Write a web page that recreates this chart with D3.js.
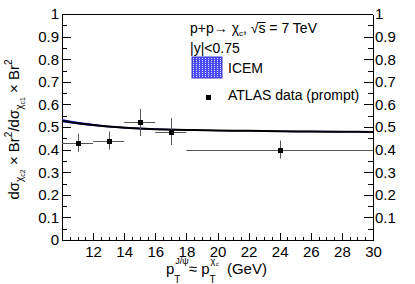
<!DOCTYPE html>
<html>
<head>
<meta charset="utf-8">
<script src="https://cdn.jsdelivr.net/npm/d3@7"></script>
<style>
  body { margin: 0; background: #fff; }
  svg { display: block; font-family: "Liberation Sans", Arial, sans-serif; }
  svg text { white-space: pre; }
  .axis text { font-size: 15px; fill: #000; }
  .axis path, .axis line { stroke: #000; shape-rendering: crispEdges; }
</style>
</head>
<body>
<div class="chart"></div>
<script>
'use strict';

const W = 415, H = 284;
const frame = {left: 62, right: 373, top: 14, bottom: 240};

// tick labels
const xTicks = [12, 14, 16, 18, 20, 22, 24, 26, 28, 30];
const yTicks = [0, 0.1, 0.2, 0.3, 0.4, 0.5, 0.6, 0.7, 0.8, 0.9, 1];

// ATLAS data (prompt)
const dataPt = [11, 13, 15, 17, 24];
const dataPtLo = [10, 12, 14, 16, 18];
const dataPtHi = [12, 14, 16, 18, 30];
const dataRatio = [0.43, 0.44, 0.52, 0.48, 0.40];
const dataErr = [0.04, 0.04, 0.06, 0.06, 0.04];

// ICEM band
const icemPt = [10, 11, 12, 13, 14, 15, 16, 18, 20, 22, 24, 26, 28, 30];
const icemMid = [0.528, 0.517, 0.509, 0.502, 0.497, 0.493, 0.490, 0.487, 0.484, 0.483, 0.481, 0.480, 0.479, 0.478];
const icemLo = [0.521, 0.512, 0.504, 0.498, 0.493, 0.489, 0.487, 0.484, 0.481, 0.480, 0.478, 0.477, 0.476, 0.475];
const icemHi = [0.535, 0.523, 0.514, 0.506, 0.501, 0.497, 0.494, 0.490, 0.487, 0.486, 0.484, 0.483, 0.482, 0.481];

const x = d3.scaleLinear().domain([10, 30]).range([frame.left, frame.right]);
const y = d3.scaleLinear().domain([0, 1]).range([frame.bottom, frame.top]);

const svg = d3.select('.chart').append('svg')
    .attr('width', W)
    .attr('height', H);

const fmt = d => String(+d.toFixed(1));

// minor ticks
const yMinor = d3.range(0.05, 1, 0.1);
const xMinor = d3.range(10, 30.01, 0.5).filter(v => v % 2 !== 0);

// left axis
svg.append('g').attr('class', 'axis')
    .attr('transform', `translate(${frame.left},0)`)
    .call(d3.axisLeft(y).tickValues(yMinor).tickSizeInner(-4.7).tickSizeOuter(0).tickFormat(''))
    .call(g => g.select('.domain').remove());
svg.append('g').attr('class', 'axis')
    .attr('transform', `translate(${frame.left},0)`)
    .call(d3.axisLeft(y).tickValues(yTicks).tickSizeInner(-9.3).tickSizeOuter(0).tickPadding(3).tickFormat(fmt));

// right axis
svg.append('g').attr('class', 'axis')
    .attr('transform', `translate(${frame.right},0)`)
    .call(d3.axisRight(y).tickValues(yMinor).tickSizeInner(-4.7).tickSizeOuter(0).tickFormat(''))
    .call(g => g.select('.domain').remove());
svg.append('g').attr('class', 'axis')
    .attr('transform', `translate(${frame.right},0)`)
    .call(d3.axisRight(y).tickValues(yTicks).tickSizeInner(-9.3).tickSizeOuter(0).tickPadding(2)
        .tickFormat(d => d === 0 ? '' : fmt(d)));

// bottom axis
svg.append('g').attr('class', 'axis')
    .attr('transform', `translate(0,${frame.bottom})`)
    .call(d3.axisBottom(x).tickValues(xMinor).tickSizeInner(-3.4).tickSizeOuter(0).tickFormat(''))
    .call(g => g.select('.domain').remove());
svg.append('g').attr('class', 'axis')
    .attr('transform', `translate(0,${frame.bottom})`)
    .call(d3.axisBottom(x).tickValues([10].concat(xTicks)).tickSizeInner(-6.8).tickSizeOuter(0).tickPadding(6)
        .tickFormat(d => d === 10 ? '' : d));

// top frame line
svg.append('line')
    .attr('x1', frame.left).attr('x2', frame.right)
    .attr('y1', frame.top).attr('y2', frame.top)
    .attr('stroke', '#000').attr('shape-rendering', 'crispEdges');

// ICEM band + central line
const band = icemPt.map((p, i) => ({p, lo: icemLo[i], hi: icemHi[i], mid: icemMid[i]}));
svg.append('path')
    .datum(band)
    .attr('fill', '#2a2ad0')
    .attr('d', d3.area().curve(d3.curveMonotoneX)
        .x(d => x(d.p)).y0(d => y(d.lo)).y1(d => y(d.hi)));
svg.append('path')
    .datum(band)
    .attr('fill', 'none')
    .attr('stroke', '#000')
    .attr('stroke-width', 2)
    .attr('d', d3.line().curve(d3.curveMonotoneX).x(d => x(d.p)).y(d => y(d.mid)));

// data points
const pts = dataPt.map((p, i) => ({p, lo: dataPtLo[i], hi: dataPtHi[i], v: dataRatio[i], e: dataErr[i]}));
const pg = svg.append('g').attr('stroke', '#555').attr('stroke-width', 1);
pg.selectAll('.ex').data(pts).enter().append('line')
    .attr('x1', d => x(d.lo)).attr('x2', d => x(d.hi))
    .attr('y1', d => Math.round(y(d.v)) + 0.5).attr('y2', d => Math.round(y(d.v)) + 0.5);
pg.selectAll('.ey').data(pts).enter().append('line')
    .attr('x1', d => Math.round(x(d.p)) + 0.5).attr('x2', d => Math.round(x(d.p)) + 0.5)
    .attr('y1', d => y(d.v - d.e)).attr('y2', d => y(d.v + d.e));
svg.selectAll('.marker').data(pts).enter().append('rect')
    .attr('x', d => Math.round(x(d.p)) - 2)
    .attr('y', d => Math.round(y(d.v)) - 2)
    .attr('width', 5).attr('height', 5)
    .attr('fill', '#000');

// helper for text with sub/superscripts
function richText(g, x0, y0, parts, size) {
    let cx = x0;
    parts.forEach(p => {
        const items = p.stack || [p];
        let w = 0;
        items.forEach(s => {
            const t = g.append('text')
                .attr('x', cx + (s.dx || 0))
                .attr('y', y0 + (s.dy || 0))
                .attr('font-size', s.size || size)
                .attr('fill', '#000')
                .text(s.t);
            w = Math.max(w, (s.dx || 0) + t.node().getComputedTextLength());
        });
        cx += w;
    });
    return cx - x0;
}

// x title
richText(svg.append('g'), 166, 274, [
    {t: 'p'},
    {stack: [{t: 'J/ψ', size: 9, dy: -10, dx: 1}, {t: 'T', size: 10, dy: 9}]},
    {t: '≈ p'},
    {stack: [{t: 'χ', size: 9, dy: -10, dx: 1}, {t: 'T', size: 10, dy: 9}]},
    {t: 'c', size: 6, dy: -8},
    {t: '  (GeV)'}
], 15);

// y title
const yt = svg.append('g');
const ytInner = yt.append('g');
const yLen = richText(ytInner, 0, 0, [
    {t: 'dσ'},
    {t: 'χ', size: 10, dy: 4},
    {t: 'c2', size: 7, dy: 6},
    {t: ' × Br'},
    {t: '2', size: 10, dy: -7},
    {t: '/dσ'},
    {t: 'χ', size: 10, dy: 4},
    {t: 'c1', size: 7, dy: 6},
    {t: ' × Br'},
    {t: '2', size: 10, dy: -7}
], 15);
yt.attr('transform', `translate(18.5,${129.5 + yLen / 2}) rotate(-90)`);

// legend
const lg = svg.append('g');
const l1 = lg.append('g');
const w1 = richText(l1, 190, 33, [
    {t: 'p+p→ χ'},
    {t: 'c', size: 8, dy: 3},
    {t: ', √'}
], 14);
const sx = 190 + w1;
const w2 = richText(l1, sx, 33, [{t: 's'}], 14);
l1.append('line')
    .attr('x1', sx - 0.5).attr('x2', sx + w2)
    .attr('y1', 22.5).attr('y2', 22.5)
    .attr('stroke', '#000').attr('stroke-width', 1);
richText(l1, sx + w2, 33, [{t: ' = 7 TeV'}], 14);

lg.append('text').attr('x', 190).attr('y', 53).attr('font-size', 14).text('|y|<0.75');

const defs = svg.append('defs');
const pat = defs.append('pattern')
    .attr('id', 'icemFill')
    .attr('patternUnits', 'userSpaceOnUse')
    .attr('width', 3).attr('height', 2);
pat.append('rect').attr('width', 3).attr('height', 2).attr('fill', '#4a4af6');
pat.append('rect').attr('x', 1).attr('y', 0).attr('width', 1).attr('height', 1).attr('fill', '#e0e0ff');

lg.append('rect')
    .attr('x', 192).attr('y', 57)
    .attr('width', 30).attr('height', 21)
    .attr('fill', 'url(#icemFill)')
    .attr('stroke', '#3a3ad0').attr('stroke-width', 1);
lg.append('text').attr('x', 228).attr('y', 73).attr('font-size', 14).text('ICEM');

lg.append('rect')
    .attr('x', 206).attr('y', 95)
    .attr('width', 5).attr('height', 5)
    .attr('fill', '#000');
lg.append('text').attr('x', 228).attr('y', 100).attr('font-size', 14).text('ATLAS data (prompt)');
</script>
</body>
</html>
